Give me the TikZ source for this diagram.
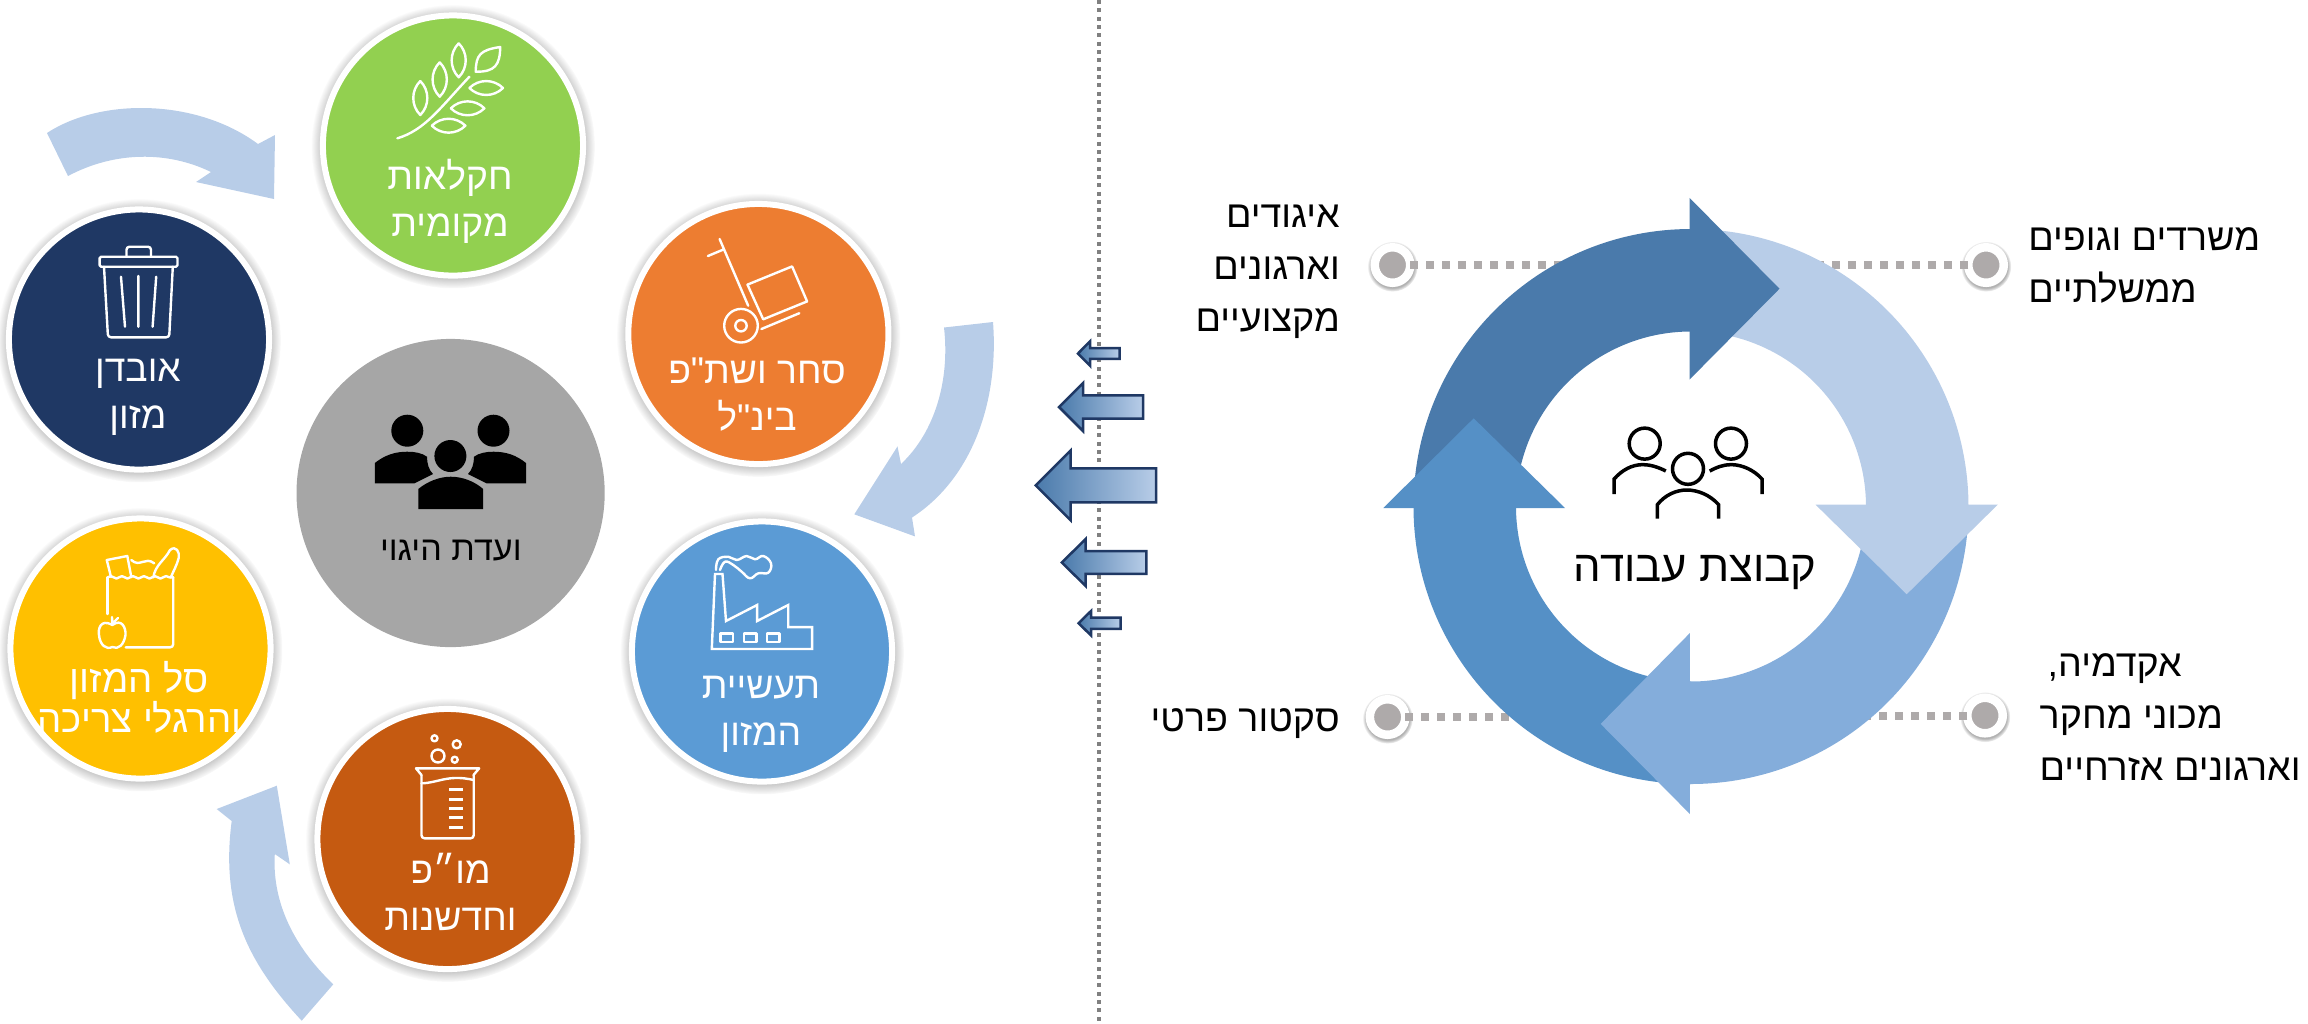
\documentclass[tikz,border=0pt]{standalone}
\usepackage{fontspec}
\usetikzlibrary{positioning,shadows,fadings,decorations.pathmorphing}
\newfontfamily\hebfont[Script=Hebrew]{Liberation Sans}
\TeXXeTstate=1
\newcommand{\heb}[1]{\beginR #1\endR}
\definecolor{discgreen}{HTML}{92D050}
\definecolor{discnavy}{HTML}{1F3864}
\definecolor{discgray}{HTML}{A6A6A6}
\definecolor{discorange}{HTML}{ED7D31}
\definecolor{discblue}{HTML}{5B9BD5}
\definecolor{discyellow}{HTML}{FFC000}
\definecolor{discrust}{HTML}{C55A11}
\definecolor{swoosh}{HTML}{B8CDE8}
\definecolor{ringdark}{HTML}{4A7AAB}
\definecolor{ringblue}{HTML}{5590C6}
\definecolor{ringmid}{HTML}{84ADDB}
\definecolor{dotgray}{HTML}{AEAAAA}
\definecolor{flowedge}{HTML}{1F3864}
\tikzset{
  disc/.style={circle,draw=white,line width=.06cm,minimum size=2.6cm,inner sep=0,outer sep=0,
    circular drop shadow={shadow xshift=0cm,shadow yshift=-.01cm,shadow scale=1.09,opacity=.6,fill=black!70}},
  dot/.style={circle,draw=white,line width=.085cm,fill=dotgray,minimum size=.355cm,inner sep=0,outer sep=0,
    circular drop shadow={shadow xshift=0cm,shadow yshift=-.01cm,shadow scale=1.42,opacity=.5,fill=black!60}},
  disctext/.style={white,align=center,anchor=base,inner sep=0,font=\hebfont\fontsize{10.6}{13.1}\selectfont},
  sidetext/.style={black,inner sep=0,font=\hebfont\fontsize{10.7}{14.7}\selectfont},
  iconline/.style={draw=white,line width=.024cm,line join=round,line cap=round},
  groupline/.style={draw=black,line width=.035cm,line cap=butt},
  leader/.style={draw=dotgray,line width=.08cm,dash pattern=on .08cm off .08cm},
  flowarrow/.style={draw=flowedge,line width=.025cm,left color=ringdark,middle color=ringblue!85!white,right color=swoosh}
}
\begin{document}
\begin{tikzpicture}[x=.01cm,y=-.01cm]
  \useasboundingbox (0,0) rectangle (2308,1023);
  % divider
  \coordinate (divtop) at (1099,0);
  \coordinate (divbottom) at (1099,1023);
  \draw[black!50,line width=.04cm,dash pattern=on .04cm off .0433cm] (divtop) -- (divbottom);
  % three curved arrows
  \fill[swoosh] (47,133) .. controls (100,98) and (196,98) .. (258,144) -- (275,135) -- (274,199)
    -- (196,182) -- (211,172) .. controls (168,151) and (115,151) .. (68,176) -- cycle;
  \fill[swoosh] (944,327.5) -- (993,322) .. controls (999,400) and (973,478) .. (912,517.5) -- (915,536.4)
    -- (854.3,514.3) -- (897.5,446.4) -- (901,464) .. controls (935,432) and (950,380) .. cycle;
  \fill[swoosh] (333.3,984.3) -- (301.7,1020.7) .. controls (250,965) and (220,910) .. (231.7,821) -- (216.7,809)
    -- (276.8,785.7) -- (289.8,864.3) -- (274.8,854) .. controls (272,900) and (292,945) .. cycle;
  % discs
  \node[disc,fill=discgreen] (farming) at (453,145.5) {};
  \node[disc,fill=discnavy] (waste) at (139,339.5) {};
  \node[disc,fill=discorange] (trade) at (758.4,334) {};
  \node[disc,fill=discblue] (industry) at (762,651.5) {};
  \node[disc,fill=discyellow] (basket) at (140.5,648.5) {};
  \node[disc,fill=discrust] (research) at (447.5,839) {};
  \node[circle,fill=discgray,minimum size=3.08cm,inner sep=0] (committee) at (450.6,493) {};
  % disc labels
  \node[disctext] (farmingtext) at (450,236) {\heb{חקלאות}\\\heb{מקומית}};
  \node[disctext] (wastetext) at (138,428) {\heb{אובדן}\\\heb{מזון}};
  \node[disctext] (tradetext) at (757,430) {\heb{סחר ושת"פ}\\\heb{בינ"ל}};
  \node[disctext] (industrytext) at (761,745) {\heb{תעשיית}\\\heb{המזון}};
  \node[disctext,font=\hebfont\fontsize{10.9}{11.3}\selectfont] (baskettext) at (139.5,732.3) {\heb{סל המזון}\\\heb{והרגלי צריכה}};
  \node[disctext] (researchtext) at (450.5,930) {\heb{מו״פ}\\\heb{וחדשנות}};
  \node[disctext,black,font=\hebfont\fontsize{9.7}{12}\selectfont] (committeetext) at (450.8,560) {\heb{ועדת היגוי}};
  % wheat
  \draw[iconline] (397.4,138.3) .. controls (425,130) and (440,108) .. (469.4,76.7);
  \foreach \ax/\ay/\bx/\by in {458.7/43.3/458.7/77.3,439.7/62.3/439.7/96.7,420.3/81/420.3/115,
    469.4/88/503/88,450.8/108.3/484.4/108.3,431.8/125.7/465.4/125.7}
    \draw[iconline] (\ax,\ay) to[bend left=45] (\bx,\by) to[bend left=45] (\ax,\ay);
  \draw[iconline] (500.2,47) .. controls (480,50) and (476,55) .. (475.7,71.7) .. controls (495,72) and (500,65) .. cycle;
  % bin
  \draw[iconline,rounded corners=.015cm] (99.6,256.7) rectangle (177.5,266.7);
  \draw[iconline,rounded corners=.03cm] (126.5,256.7) -- (126.5,246.7) -- (151,246.7) -- (151,256.7);
  \draw[iconline,rounded corners=.03cm] (104,266.7) -- (108,337.3) -- (169.2,337.3) -- (172.8,266.7);
  \draw[iconline] (121,276.7) -- (125,326.7) (138.4,276) -- (138.4,326.7) (156.2,276.7) -- (152.6,326.7);
  % bag
  \draw[iconline] (107.5,614) -- (107.5,577.3);
  \draw[iconline,decorate,decoration={snake,amplitude=.012cm,segment length=.11cm}] (107.5,577.3) -- (173.2,577.3);
  \draw[iconline,rounded corners=.03cm] (173.2,577.3) -- (173.2,647.3) -- (125.7,647.3);
  \draw[iconline] (111,577) -- (106.8,560) -- (127.3,556) -- (131.3,577);
  \draw[iconline] (131.3,560) .. controls (140,568) and (145,556) .. (154.2,563.3);
  \draw[iconline] (153.4,577.3) .. controls (155,565) and (165,560) .. (170,550) .. controls (176,545) and (180,552) .. (178.7,558) .. controls (177,565) and (173,572) .. (170.8,577.3);
  \draw[iconline] (112.3,625) .. controls (100,618) and (98,630) .. (99,635) .. controls (100,645) and (106,650) .. (112.3,647) .. controls (118,650) and (124,645) .. (125.5,635) .. controls (126,628) and (122,618) .. cycle;
  \draw[iconline] (112.3,624) -- (112,617) (113,623) -- (118,618);
  % beaker
  \draw[iconline] (416,768.3) -- (479.2,768.3) (416,768.3) -- (421.5,775) (479.2,768.3) -- (473.5,775);
  \draw[iconline,rounded corners=.03cm] (421.5,775) -- (421.5,838.3) -- (473.7,838.3) -- (473.7,775);
  \draw[iconline] (421.5,783.3) .. controls (438,783) and (448,774) .. (473.7,780);
  \foreach \ty in {789,799,808.3,817.3,827.3}
    \draw[iconline,line cap=butt,line width=.03cm] (449.2,\ty) -- (463.4,\ty);
  \draw[iconline] (438,756) circle[radius=6.5] (456.7,744.3) circle[radius=4] (434.5,738.3) circle[radius=3] (454.7,759.7) circle[radius=3];
  % hand truck
  \draw[iconline] (719.6,239) -- (748.2,305.7) (707.9,256) -- (723.2,249.6);
  \draw[iconline] (747.5,284.6) -- (792.1,266.4) -- (807.1,301.4) -- (763.2,319.3) -- cycle;
  \draw[iconline] (761.4,329) -- (799.3,313.2);
  \draw[iconline] (741,325.7) circle[radius=16.8] (741,325.7) circle[radius=5.7];
  % factory
  \draw[iconline,line cap=butt,line join=miter] (711.8,649) -- (715,574) -- (722.5,574) -- (726,621) -- (757.1,605) -- (757.1,621)
    -- (788.2,605) -- (788.2,627.1) -- (812.1,627.1) -- (812.1,649) -- cycle;
  \draw[iconline,line cap=butt] (720.4,633.6) rectangle (733.2,641.8) (743.9,633.6) rectangle (756.4,641.8) (766.8,633.6) rectangle (779.6,641.8);
  \draw[iconline] plot[smooth,tension=.7] coordinates {(716,570) (718.3,559.3) (728.3,556.7) (736.7,560) (746.7,556) (755,559.3) (763.3,556)
    (771,563.3) (768.3,572.7) (758.3,573.3) (750,578.3) (741.7,571.7) (733.3,565) (725,561.7) (720,570)};
  % filled group icon
  \fill[black] (407.3,430.7) circle[radius=16] (493.5,430.7) circle[radius=16] (450.4,456) circle[radius=16];
  \fill[black] (374.8,483.3) -- (374.8,463) .. controls (385,455) and (395,451.7) .. (407.3,451.7) .. controls (415,451.7) and (422,453) .. (427,456.7)
    .. controls (427,464) and (429,470) .. (433,474) -- (414.4,483.3) -- cycle;
  \fill[black] (526,483.3) -- (526,463) .. controls (516,455) and (506,451.7) .. (493.5,451.7) .. controls (486,451.7) and (479,453) .. (474,456.7)
    .. controls (474,464) and (472,470) .. (468,474) -- (486.5,483.3) -- cycle;
  \fill[black] (418.3,509) -- (418.3,489) .. controls (428,481) and (440,476.7) .. (450.8,476.7) .. controls (462,476.7) and (474,481) .. (483.2,489) -- (483.2,509) -- cycle;
  % small arrows
  \foreach \tipx/\headx/\endx/\cy/\sh/\hh in {1078/1090/1119.6/353.5/5.4/12.2,1059/1083/1143/407/11.6/24,1035.7/1070.7/1156/485.4/17/35,1061.8/1085.7/1146.4/562.5/11.3/23.5,1078.6/1091/1120.7/623.2/5.7/12.2}
    \draw[flowarrow] (\tipx,\cy) -- (\headx,\cy-\hh) -- (\headx,\cy-\sh) -- (\endx,\cy-\sh) -- (\endx,\cy+\sh)
      -- (\headx,\cy+\sh) -- (\headx,\cy+\hh) -- cycle;
  % dots and labels round the ring
  \node[dot] (dotunions) at (1392.5,265) {};
  \node[dot] (dotprivate) at (1387.6,717) {};
  \node[dot] (dotministry) at (1986,265) {};
  \node[dot] (dotacademia) at (1985,715.5) {};
  \coordinate (ringunions) at (1570,265);
  \coordinate (ringprivate) at (1530,717);
  \coordinate (ringministry) at (1810,265);
  \coordinate (ringacademia) at (1850,715.5);
  \draw[leader] (dotunions) -- (ringunions);
  \draw[leader] (dotprivate) -- (ringprivate);
  \draw[leader] (dotministry) -- (ringministry);
  \draw[leader] (dotacademia) -- (ringacademia);
  \node[sidetext,align=right,anchor=base east] (unions) at (1340.5,331) {\heb{איגודים}\\\heb{וארגונים}\\\heb{מקצועיים}};
  \node[sidetext,anchor=base east] (private) at (1340.5,731) {\heb{סקטור פרטי}};
  \node[sidetext,align=left,anchor=base west] (ministry) at (2027.6,302.6) {\heb{משרדים וגופים}\\\heb{ממשלתיים}};
  \node[sidetext,align=left,anchor=base west] (academia) at (2039,780) {\hspace*{.08cm}\heb{אקדמיה,}\\\heb{מכוני מחקר}\\\heb{וארגונים אזרחיים}};
  % ring of four arrows
  \begin{scope}[shift={(1691,506.5)}]
    \fill[ringdark] (180:277.5) arc[start angle=180,end angle=270,radius=277.5] -- (270:175) arc[start angle=270,end angle=180,radius=175] -- cycle;
    \fill[ringblue] (90:277.5) arc[start angle=90,end angle=180,radius=277.5] -- (180:175) arc[start angle=180,end angle=90,radius=175] -- cycle;
    \fill[ringblue] (-307.7,1.5) -- (-217.3,-88.2) -- (-126,1.5) -- cycle;
    \fill[ringmid] (0:277.5) arc[start angle=0,end angle=91,radius=277.5] -- (91:175) arc[start angle=91,end angle=0,radius=175] -- cycle;
    \fill[ringmid] (-1.1,126.5) -- (-90.3,217.4) -- (-1.1,307.5) -- cycle;
    \fill[swoosh] (-90:277.5) arc[start angle=-90,end angle=1,radius=277.5] -- (1:175) arc[start angle=1,end angle=-90,radius=175] -- cycle;
    \fill[swoosh] (124.5,-1.9) -- (215.7,87.7) -- (306.8,-1.9) -- cycle;
    \fill[ringdark] (-1.5,-308.7) -- (88.5,-217.8) -- (-1.5,-126.9) -- cycle;
  \end{scope}
  % outline group icon
  \draw[groupline] (1644.7,443.6) circle[radius=15.5] (1731,443.6) circle[radius=15.5] (1688,468.8) circle[radius=15.5];
  \draw[groupline] (1614.1,494) -- (1614.1,479) .. controls (1622,470) and (1632,464.6) .. (1642.8,464.6) .. controls (1650,464.6) and (1658,467) .. (1665.8,471);
  \draw[groupline] (1762,494) -- (1762,479) .. controls (1754,470) and (1742,464.6) .. (1731,464.6) .. controls (1724,464.6) and (1717,467) .. (1709.7,471);
  \draw[groupline] (1657.4,518.5) -- (1657.4,504.6) .. controls (1665,495) and (1676,490) .. (1686.8,490) .. controls (1698,490) and (1710,495) .. (1718.6,504.6) -- (1718.6,518.5);
  \node[sidetext,font=\hebfont\fontsize{12.4}{16}\selectfont,anchor=base] (workgroup) at (1695,581.6) {\heb{קבוצת עבודה}};
\end{tikzpicture}
\end{document}
